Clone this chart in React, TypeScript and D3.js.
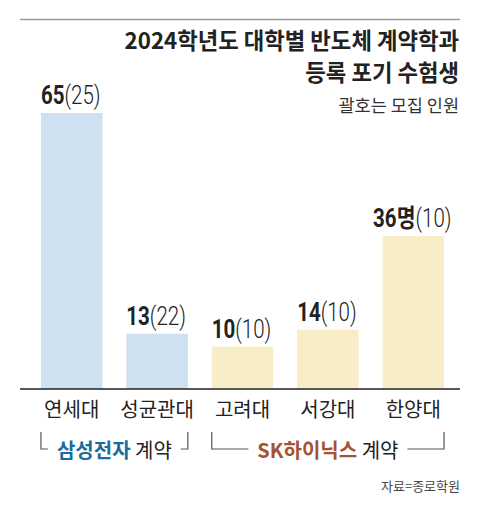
import { useEffect, useRef } from "react";
import * as d3 from "d3";

// chart data
const schools = ["연세대", "성균관대", "고려대", "서강대", "한양대"];
const dropouts = [65, 13, 10, 14, 36];
const quota = [25, 22, 10, 10, 10];
const unitSuffix = ["", "", "", "", "명"];
const partner = ["samsung", "samsung", "sk", "sk", "sk"];

const groups = [
  { key: "samsung", name: "삼성전자", color: "#1d6a9c" },
  { key: "sk", name: "SK하이닉스", color: "#a4532e" },
];

const barColor: Record<string, string> = {
  samsung: "#cfe0f0",
  sk: "#f9edc8",
};

const W = 480;
const H = 510;
const KR = "'Noto Sans CJK KR', sans-serif";
const NUM = "Roboto, 'Noto Sans CJK KR', sans-serif";

const App = () => {
  const gRef = useRef<SVGGElement>(null);

  const x = d3
    .scaleBand<string>()
    .domain(schools)
    .range([29, 456])
    .paddingInner(0.28)
    .paddingOuter(0.14);
  const y = d3
    .scaleLinear()
    .domain([0, d3.max(dropouts) || 1])
    .range([389, 113]);
  const bw = x.bandwidth();

  // group extents from the band scale
  const groupSpans = groups.map((g) => {
    const idx = schools.map((_, i) => i).filter((i) => partner[i] === g.key);
    const x0 = x(schools[idx[0]])!;
    const x1 = x(schools[idx[idx.length - 1]])! + bw;
    return { ...g, x0, x1, cx: (x0 + x1) / 2 };
  });

  // brackets drawn after measuring the label widths
  useEffect(() => {
    const g = d3.select(gRef.current);
    g.selectAll("path").remove();
    const top = 432;
    const bottom = 449;
    g.selectAll<SVGTextElement, unknown>("text").each(function (_, i) {
      const span = groupSpans[i];
      const w = this.getComputedTextLength();
      const gap = 9;
      const l = span.cx - w / 2 - gap;
      const r = span.cx + w / 2 + gap;
      g.append("path")
        .attr("d", `M${span.x0},${top}V${bottom}H${l}M${r},${bottom}H${span.x1}V${top}`)
        .attr("fill", "none")
        .attr("stroke", "#555")
        .attr("stroke-width", 1.2);
    });
  }, []);

  return (
    <svg
      width={W}
      height={H}
      style={{ position: "absolute", left: 0, top: 0, background: "#fff" }}
    >
      <line x1={20} x2={460} y1={19.5} y2={19.5} stroke="#999" strokeWidth={1.6} />

      <g transform="translate(459,0) scale(0.97,1)">
        <text x={0} y={49} textAnchor="end" fontFamily={KR} fontWeight="bold" fontSize={23} fill="#222">
          2024학년도 대학별 반도체 계약학과
        </text>
        <text x={0} y={81} textAnchor="end" fontFamily={KR} fontWeight="bold" fontSize={23} fill="#222">
          등록 포기 수험생
        </text>
      </g>
      <text x={459} y={112} textAnchor="end" fontFamily={KR} fontSize={17.5} fill="#333">
        괄호는 모집 인원
      </text>

      {schools.map((s, i) => (
        <rect
          key={s}
          x={x(s)}
          y={y(dropouts[i])}
          width={bw}
          height={y(0) - y(dropouts[i])}
          fill={barColor[partner[i]]}
        />
      ))}

      {schools.map((s, i) => (
        <text
          key={s + "-v"}
          transform={`translate(${x(s)! + bw / 2 - 1},${y(dropouts[i]) - 9}) scale(0.82,1)`}
          textAnchor="middle"
          fontFamily={NUM}
          fontSize={25}
          fill="#222"
        >
          <tspan fontWeight="bold">{dropouts[i] + unitSuffix[i]}</tspan>
          <tspan fontWeight={300}>({quota[i]})</tspan>
        </text>
      ))}

      <line x1={20} x2={460} y1={389} y2={389} stroke="#222" strokeWidth={1.5} />

      {schools.map((s) => (
        <text
          key={s + "-l"}
          x={x(s)! + bw / 2}
          y={417}
          textAnchor="middle"
          fontFamily={KR}
          fontSize={20}
          fill="#222"
        >
          {s}
        </text>
      ))}

      <g ref={gRef}>
        {groupSpans.map((g) => (
          <text key={g.key} x={g.cx} y={458} textAnchor="middle" fontFamily={KR} fontSize={20} fill="#222">
            <tspan fontWeight="bold" fill={g.color}>
              {g.name}
            </tspan>
            <tspan> 계약</tspan>
          </text>
        ))}
      </g>

      <text x={460} y={491} textAnchor="end" fontFamily={KR} fontSize={13} fill="#444">
        자료=종로학원
      </text>
    </svg>
  );
};

export default App;
